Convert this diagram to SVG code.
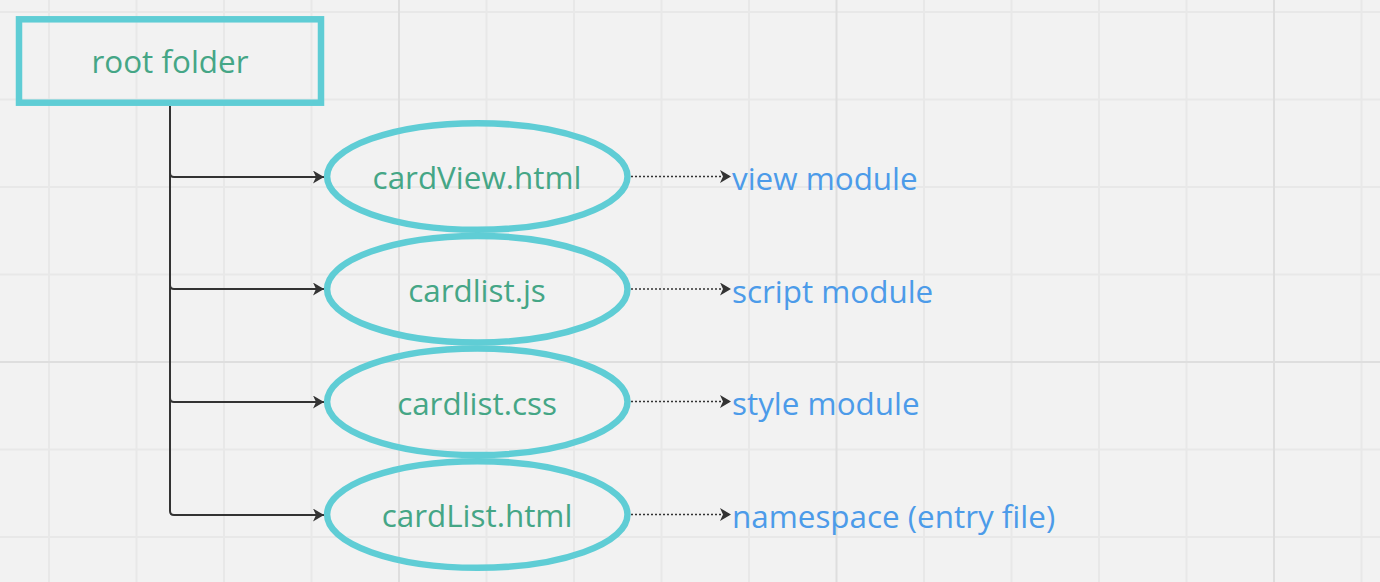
<svg xmlns="http://www.w3.org/2000/svg" width="1380" height="582" viewBox="0 0 1380 582">
<style>
.minor{stroke:#e8e8e8;stroke-width:2}
.major{stroke:#dedede;stroke-width:2}
.node{fill:none;stroke:#5fcdd5;stroke-width:6.5}
.ntext{font-family:"Open Sans","Noto Sans",sans-serif;font-size:31.4px;fill:#45a686;text-anchor:middle}
.ltext{font-family:"Open Sans","Noto Sans",sans-serif;font-size:31.4px;fill:#4c9be9}
.conn{fill:none;stroke:#333333;stroke-width:2}
.dot{fill:none;stroke:#333333;stroke-width:1.6;stroke-dasharray:2 2}
</style>
<defs>
<marker id="arr" markerUnits="userSpaceOnUse" markerWidth="12" markerHeight="13" refX="11" refY="6.5" orient="auto">
<path d="M0,0 L11,6.5 L0,13 L3,6.5 z" fill="#333333"/>
</marker>
</defs>
<rect width="1380" height="582" fill="#f2f2f2"/>
<g id="grid">
<path class="minor" d="M49,0V582M136.5,0V582M224,0V582M311.5,0V582M486.5,0V582M574,0V582M661.5,0V582M749,0V582M924,0V582M1011.5,0V582M1099,0V582M1186.5,0V582M1361.5,0V582"/>
<path class="minor" d="M0,12H1380M0,99.5H1380M0,187H1380M0,274.5H1380M0,449.5H1380M0,537H1380"/>
<path class="major" d="M399,0V582M836.5,0V582M1274,0V582M0,362H1380"/>
</g>
<g id="connectors">
<path class="conn" marker-end="url(#arr)" d="M170,106V173Q170,177 174,177H324"/>
<path class="conn" marker-end="url(#arr)" d="M170,106V285Q170,289 174,289H324"/>
<path class="conn" marker-end="url(#arr)" d="M170,106V398Q170,402 174,402H324"/>
<path class="conn" marker-end="url(#arr)" d="M170,106V511Q170,515 174,515H324"/>
<path class="dot" marker-end="url(#arr)" d="M631,176.5H731"/>
<path class="dot" marker-end="url(#arr)" d="M631,289H731"/>
<path class="dot" marker-end="url(#arr)" d="M631,401.5H731"/>
<path class="dot" marker-end="url(#arr)" d="M631,514.5H731"/>
</g>
<g id="root">
<rect class="node" x="19" y="19.3" width="302" height="83.4"/>
<text class="ntext" x="170" y="72.7">root folder</text>
</g>
<g id="cardView">
<ellipse class="node" cx="477.3" cy="176.5" rx="150.2" ry="53.3"/>
<text class="ntext" x="477" y="189.3">cardView.html</text>
</g>
<g id="cardlistjs">
<ellipse class="node" cx="477.3" cy="289.2" rx="150.2" ry="53.3"/>
<text class="ntext" x="477" y="302">cardlist.js</text>
</g>
<g id="cardlistcss">
<ellipse class="node" cx="477.3" cy="401.8" rx="150.2" ry="53.3"/>
<text class="ntext" x="477" y="414.6">cardlist.css</text>
</g>
<g id="cardListhtml">
<ellipse class="node" cx="477.3" cy="514.5" rx="150.2" ry="53.3"/>
<text class="ntext" x="477" y="527.3">cardList.html</text>
</g>
<g id="labels">
<text class="ltext" x="732" y="190">view module</text>
<text class="ltext" x="732" y="302.6">script module</text>
<text class="ltext" x="732" y="415">style module</text>
<text class="ltext" x="732" y="527.8">namespace (entry file)</text>
</g>
</svg>
